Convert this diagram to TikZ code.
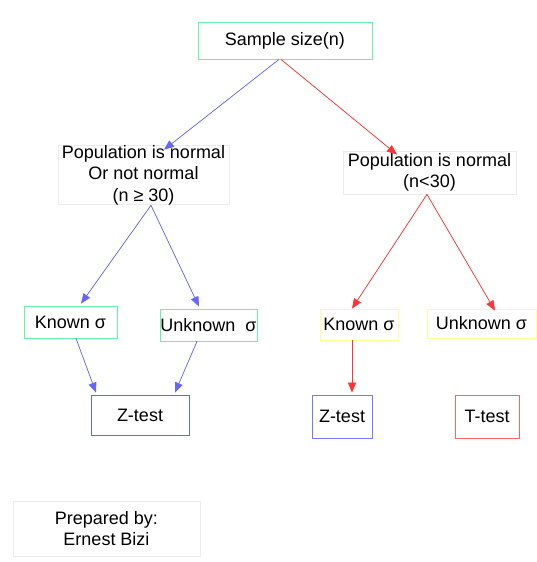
\documentclass[tikz,border=0pt]{standalone}
\usepackage{fontspec}
\setmainfont{Liberation Sans}
\usetikzlibrary{arrows.meta}
\definecolor{boxgreen}{RGB}{100,245,170}
\definecolor{boxgray}{RGB}{236,236,236}
\definecolor{boxyellow}{RGB}{255,255,150}
\definecolor{boxsteel}{RGB}{85,119,187}
\definecolor{boxblue}{RGB}{119,119,255}
\definecolor{boxred}{RGB}{255,100,100}
\definecolor{arrblue}{RGB}{102,102,255}
\definecolor{arrred}{RGB}{255,51,51}

\begin{document}
\begin{tikzpicture}[x=1pt, y=-1pt,
    every node/.style={font=\fontsize{18}{21.5}\selectfont, inner sep=0pt, align=center},
    box/.style={draw=#1, line width=0.8pt, rectangle},
    arr/.style={draw=#1, fill=#1, line width=0.7pt, -{Triangle[length=10pt,width=8pt]}}]
                \useasboundingbox (0,0) rectangle (537,562);

                % Top box
                \node[box=boxgreen, minimum width=174pt, minimum height=37pt] (sample) at (285,40.5) {Sample size(n)};

                % Population boxes
                \node[box=boxgray, minimum width=171pt, minimum height=54pt] (popl) at (143.5,175) {Population is normal\\Or not normal\\(n ≥ 30)};
                \node[box=boxgray, minimum width=173pt, minimum height=43pt] (popr) at (429.5,172.5) {Population is normal\\(n<30)};

                % Sigma boxes
                \node[box=boxgreen, minimum width=93pt, minimum height=32pt] (knownl) at (70.5,322) {Known σ};
                \node[box=boxgreen, minimum width=97pt, minimum height=32pt] (unknownl) at (208.5,325) {Unknown\ \ σ};
                \node[box=boxyellow, minimum width=78pt, minimum height=31pt] (knownr) at (359,324.5) {Known σ};
                \node[box=boxyellow, minimum width=109pt, minimum height=29pt] (unknownr) at (481.5,323.5) {Unknown σ};

                % Tests
                \node[box=boxsteel, minimum width=98pt, minimum height=40pt] (zl) at (140,415) {Z-test};
                \node[box=boxblue, minimum width=60pt, minimum height=43pt] (zr) at (342,416.5) {Z-test};
                \node[box=boxred, minimum width=64pt, minimum height=43pt] (tt) at (487,416.5) {T-test};

                % Author
                \node[box=boxgray, minimum width=187pt, minimum height=55pt] (prep) at (106.5,528.5) {Prepared by:\\Ernest Bizi};

                % Arrows
                \draw[arr=arrblue] ([xshift=-6pt]sample.south) -- ([xshift=20.5pt,yshift=-5pt]popl.north);
                \draw[arr=arrred] ([xshift=-4pt]sample.south) -- ([xshift=-32.5pt,yshift=-4pt]popr.north);
                \draw[arr=arrblue] ([xshift=7.5pt]popl.south) -- ([xshift=10.5pt,yshift=2pt]knownl.north);
                \draw[arr=arrblue] ([xshift=7.5pt]popl.south) -- ([xshift=-9.5pt,yshift=2pt]unknownl.north);
                \draw[arr=arrred] ([xshift=-2.5pt]popr.south) -- ([xshift=-7pt]knownr.north);
                \draw[arr=arrred] ([xshift=-2.5pt]popr.south) -- ([xshift=13.5pt,yshift=-2pt]unknownr.north);
                \draw[arr=arrblue] ([xshift=5.5pt]knownl.south) -- ([xshift=-44pt,yshift=2pt]zl.north);
                \draw[arr=arrblue] ([xshift=-11.5pt]unknownl.south) -- ([xshift=35pt,yshift=2pt]zl.north);
                \draw[arr=arrred] ([xshift=-7pt]knownr.south) -- ([xshift=10pt,yshift=2pt]zr.north);
            \end{tikzpicture}
\end{document}
